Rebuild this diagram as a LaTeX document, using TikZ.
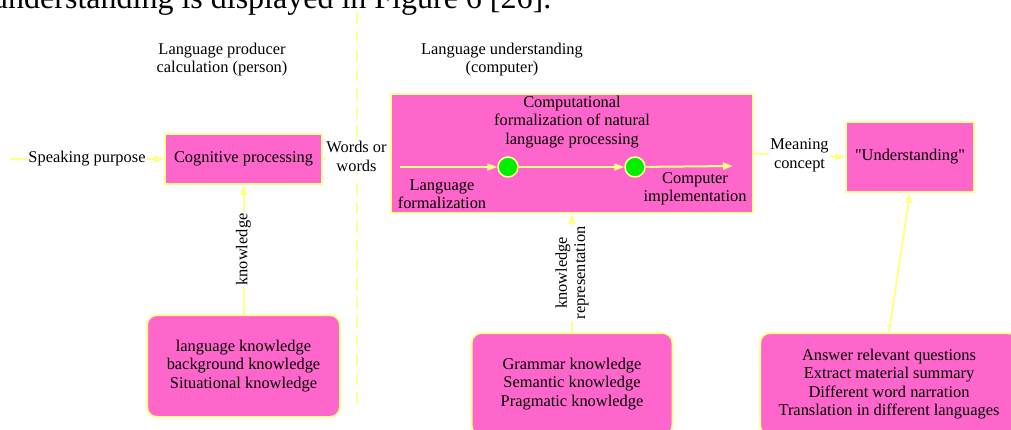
\documentclass[tikz,border=0pt]{standalone}
\usepackage{fontspec}
\setmainfont{Liberation Serif}
\newfontfamily\quotefont{Liberation Serif}
\usetikzlibrary{arrows.meta}
\definecolor{boxpink}{HTML}{FF66CC}
\definecolor{edgeyellow}{HTML}{FFFF99}
\definecolor{lineyellow}{HTML}{FFFF88}
\definecolor{dotgreen}{HTML}{00EE00}
\tikzset{
  txt/.style={font=\fontsize{16.4}{18.3}\selectfont, align=center, inner sep=1pt},
  pinkbox/.style={txt, draw=edgeyellow, fill=boxpink, line width=2pt},
  roundbox/.style={pinkbox, rounded corners=10pt},
  dot/.style={circle, draw=edgeyellow, fill=dotgreen, line width=1.5pt, minimum size=20pt, inner sep=0pt},
  conn/.style={draw=lineyellow, line width=2pt, -{Triangle[length=10pt,width=7pt]}},
  lbl/.style={txt, fill=white, inner sep=1.5pt},
  divider/.style={draw=edgeyellow, line width=2pt, dash pattern=on 12pt off 7pt}
}
\begin{document}
\begin{tikzpicture}[x=1pt,y=-1pt]
\useasboundingbox (0,0) rectangle (1011,430);
% cropped heading text from the page
\node[anchor=base west, inner sep=0pt, font=\fontsize{32}{36}\selectfont] (head) at (-8,9) {understanding is displayed in Figure 6 [26].};
% divider
\coordinate (dtop) at (357,12);
\coordinate (dbot) at (357,405);
\draw[divider] (dtop) -- (dbot);
% section titles
\node[txt] (ttlL) at (222,59.5) {Language producer\\calculation (person)};
\node[txt] (ttlR) at (502,59.5) {Language understanding\\(computer)};
% main boxes
\node[pinkbox, minimum width=157pt, minimum height=50pt] (cog) at (243.5,159) {Cognitive processing};
\node[pinkbox, minimum width=362pt, minimum height=119pt] (big) at (572,153.5) {};
\node[pinkbox, minimum width=128pt, minimum height=70pt] (und) at (910,157) {\quotefont "Understanding"};
% bottom boxes
\node[roundbox, minimum width=193pt, minimum height=102pt] (kbl) at (243.5,366) {language knowledge\\background knowledge\\Situational knowledge};
\node[roundbox, minimum width=201pt, minimum height=102pt] (kbm) at (572,384) {Grammar knowledge\\Semantic knowledge\\Pragmatic knowledge};
\node[roundbox, minimum width=258pt, minimum height=102pt] (kbr) at (889,384) {Answer relevant questions\\Extract material summary\\Different word narration\\Translation in different languages};
% inside the big box
\node[txt] (cfl) at (572,122) {Computational\\formalization of natural\\language processing};
\node[txt] (lfm) at (442,194) {Language\\formalization};
\node[txt] (cimp) at (695,189) {Computer\\implementation};
\coordinate (inS) at (400,167);
\coordinate (inE) at (733,166);
\node[dot] (c1) at (508,167) {};
\node[dot] (c2) at (635,167) {};
\draw[conn] (inS) -- (c1);
\draw[conn] (c1) -- (c2);
\draw[conn] (c2) -- (inE);
% connectors
\coordinate (sp) at (10,159);
\draw[conn] (sp) -- node[lbl] {Speaking purpose} (cog.west);
\draw[conn] (cog.east) -- node[lbl] {Words or\\words} (big.west);
\draw[conn] (big.east) -- node[lbl] {Meaning\\concept} (und.west);
\draw[conn] (kbl.north) -- node[lbl, rotate=90] {knowledge} (cog.south);
\draw[conn] (kbm.north) -- node[lbl, rotate=90] {knowledge\\representation} (big.south);
\draw[conn] (kbr.north) -- (und.south);
\end{tikzpicture}
\end{document}
